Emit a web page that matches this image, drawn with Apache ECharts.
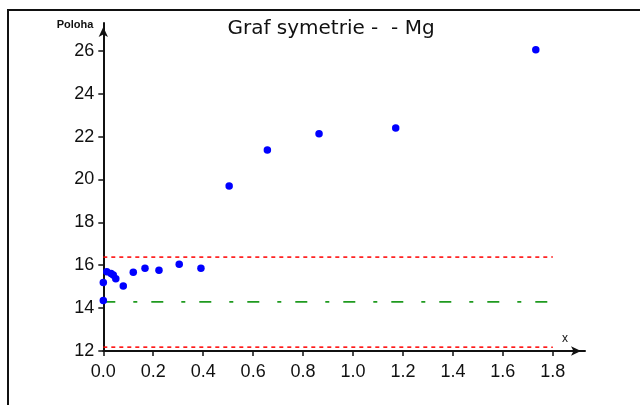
<!DOCTYPE html>
<html><head><meta charset="utf-8">
<script src="https://cdn.jsdelivr.net/npm/echarts@6/dist/echarts.min.js"></script>
<style>html,body{margin:0;padding:0;background:#fff}#c{width:640px;height:405px}</style>
</head><body><div id="c"></div>
<script>
var titleText = 'Graf symetrie -  - Mg';
var yName = 'Poloha';
var xName = 'x';
var xTicks = [0, 0.2, 0.4, 0.6, 0.8, 1.0, 1.2, 1.4, 1.6, 1.8];
var yTicks = [12, 14, 16, 18, 20, 22, 24, 26];
var xVals = [0.0, 0.0, 0.014, 0.031, 0.040, 0.050, 0.080, 0.120, 0.167, 0.223, 0.304, 0.391, 0.504, 0.657, 0.864, 1.171, 1.732];
var yVals = [14.35, 15.19, 15.70, 15.62, 15.55, 15.37, 15.03, 15.67, 15.86, 15.77, 16.05, 15.86, 19.70, 21.38, 22.13, 22.40, 26.05];
var centerLine = 14.29;
var upperLimit = 16.38;
var lowerLimit = 12.18;
var lineStart = 0, lineEnd = 1.8;

var chart = echarts.init(document.getElementById('c'));
var font = 'Liberation Sans, Arial, sans-serif';
var pts = xVals.map(function (x, i) { return [x, yVals[i]]; });
function hline(v) { return [[lineStart, v], [lineEnd, v]]; }
chart.setOption({
  animation: false,
  backgroundColor: '#fff',
  title: {
    text: titleText, left: 326, top: 14, textAlign: 'center',
    textStyle: { fontFamily: 'DejaVu Sans, sans-serif', fontSize: 20, fontWeight: 'normal', color: '#111' }
  },
  grid: { left: 103.3, right: 55, top: 23, bottom: 54, containLabel: false },
  xAxis: {
    type: 'value', min: 0, max: 1.929,
    name: xName, nameLocation: 'end', nameGap: -20,
    nameTextStyle: { fontFamily: font, fontSize: 12, color: '#111', align: 'center', verticalAlign: 'bottom', padding: [0, 0, 6, 0] },
    splitLine: { show: false },
    axisLine: { show: true, onZero: false, symbol: ['none', 'arrow'], symbolSize: [7, 10], symbolOffset: [0, -4], lineStyle: { color: '#111', width: 2 } },
    axisTick: { show: true, length: 5, customValues: xTicks, lineStyle: { color: '#111', width: 1.5 } },
    axisLabel: {
      customValues: xTicks, margin: 12, fontFamily: font, fontSize: 18, color: '#111',
      formatter: function (v) { return v.toFixed(1); }
    }
  },
  yAxis: {
    type: 'value', min: 12, max: 27.3,
    name: yName, nameLocation: 'end', nameGap: -2,
    nameTextStyle: { fontFamily: font, fontSize: 11, fontWeight: 'bold', color: '#111', align: 'right', verticalAlign: 'middle', padding: [0, 10, 0, 0] },
    splitLine: { show: false },
    axisLine: { show: true, onZero: false, symbol: ['none', 'arrow'], symbolSize: [7, 10], symbolOffset: [0, -4], lineStyle: { color: '#111', width: 2 } },
    axisTick: { show: true, length: 5, customValues: yTicks, lineStyle: { color: '#111', width: 1.5 } },
    axisLabel: {
      customValues: yTicks, margin: 9, fontFamily: font, fontSize: 18, color: '#111',
      formatter: function (v) { return String(v); }
    }
  },
  graphic: [{
    type: 'polyline', silent: true,
    shape: { points: [[8, 405], [8, 10], [640, 10]] },
    style: { stroke: '#111', lineWidth: 2, fill: null }
  }],
  series: [
    { type: 'line', data: hline(upperLimit), symbol: 'none', silent: true,
      lineStyle: { color: '#ff0000', width: 1.5, type: [4, 4] }, z: 1 },
    { type: 'line', data: hline(lowerLimit), symbol: 'none', silent: true,
      lineStyle: { color: '#ff0000', width: 1.5, type: [4, 4] }, z: 1 },
    { type: 'line', data: hline(centerLine), symbol: 'none', silent: true,
      lineStyle: { color: '#1f9a1f', width: 1.8, type: [12, 18, 4, 14] }, z: 1 },
    { type: 'scatter', data: pts, symbol: 'circle', symbolSize: 7.5,
      itemStyle: { color: '#0000ff', opacity: 1 }, z: 3 }
  ]
});
</script></body></html>
